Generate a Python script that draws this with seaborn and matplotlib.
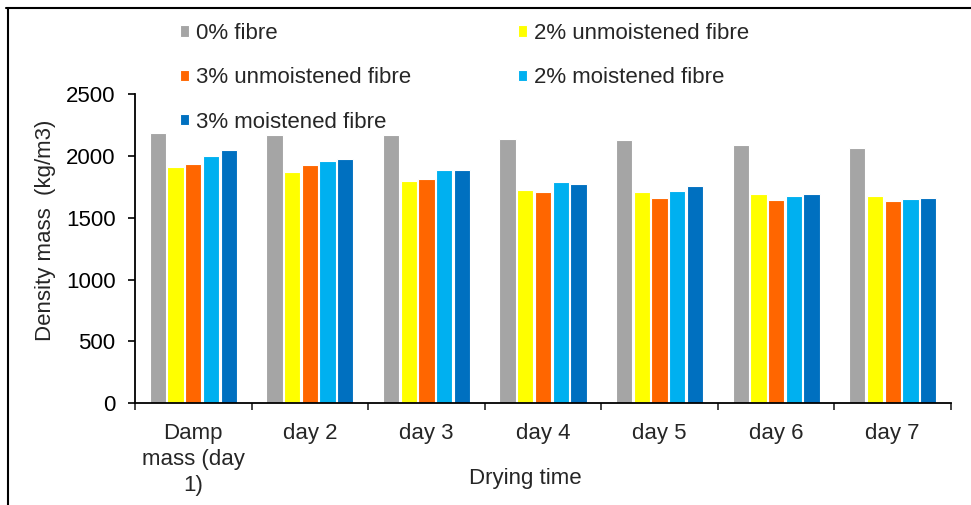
import pandas as pd
import matplotlib
matplotlib.use('Agg')
import matplotlib.pyplot as plt
from matplotlib.lines import Line2D
from matplotlib.ticker import FixedLocator
import seaborn as sns

# 数据
days = ['Damp\nmass (day\n1)', 'day 2', 'day 3', 'day 4', 'day 5', 'day 6', 'day 7']
series = ['0% fibre', '2% unmoistened fibre', '3% unmoistened fibre',
          '2% moistened fibre', '3% moistened fibre']
fibre_0 = [2183, 2171, 2171, 2134, 2126, 2091, 2061]
unmoist_2 = [1910, 1867, 1800, 1727, 1708, 1690, 1678]
unmoist_3 = [1932, 1924, 1811, 1708, 1662, 1643, 1635]
moist_2 = [1997, 1959, 1884, 1791, 1716, 1678, 1652]
moist_3 = [2045, 1977, 1884, 1773, 1754, 1690, 1662]
colors = ['#A5A5A5', '#FFFF00', '#FF6600', '#00B0F0', '#0070C0']

values = [fibre_0, unmoist_2, unmoist_3, moist_2, moist_3]
rows = []
for name, vals in zip(series, values):
    for d, v in zip(days, vals):
        rows.append({'Day': d, 'Series': name, 'Density': v})
df = pd.DataFrame(rows)

sns.set_style('white')
plt.rcParams['font.family'] = ['Liberation Sans', 'DejaVu Sans']
fs = 16

fig = plt.figure(figsize=(9.71, 5.05), dpi=100)
ax = fig.add_axes([135 / 971, 1 - 403.3 / 505, 816 / 971, 309.3 / 505])

sns.barplot(data=df, x='Day', y='Density', hue='Series', order=days,
            hue_order=series, palette=colors, width=0.76, gap=0.08,
            edgecolor='white', linewidth=0.8, saturation=1, ax=ax)

ax.set_ylim(0, 2500)
ax.set_xlim(-0.5, len(days) - 0.5)
ax.set_yticks([0, 500, 1000, 1500, 2000, 2500])
ax.tick_params(axis='y', labelsize=fs, length=5, width=1.2, direction='out',
               left=True, pad=9, colors='black')

# x轴：刻度在分组边界，文字在分组中间
ax.xaxis.set_major_locator(FixedLocator([i - 0.5 for i in range(len(days) + 1)]))
ax.xaxis.set_minor_locator(FixedLocator(list(range(len(days)))))
ax.set_xticklabels([], minor=False)
ax.set_xticklabels(days, minor=True)
ax.tick_params(axis='x', which='major', length=5, width=1.2, direction='out', bottom=True)
ax.tick_params(axis='x', which='minor', length=0, labelsize=fs, pad=14)
for t in ax.get_xticklabels(minor=True):
    t.set_linespacing(1.32)

for s in ['top', 'right']:
    ax.spines[s].set_visible(False)
for s in ['left', 'bottom']:
    ax.spines[s].set_color('black')
    ax.spines[s].set_linewidth(1.3)

ax.set_xlabel('Drying time', fontsize=fs)
ax.xaxis.set_label_coords((525 - 135) / 816, -0.21)
ax.set_ylabel('Density mass  (kg/m3)', fontsize=fs)
ax.yaxis.set_label_coords(-0.097, 0.558)

# 图例
handles, labels = ax.get_legend_handles_labels()
order = [0, 2, 4, 1, 3]
ax.legend([handles[i] for i in order], [labels[i] for i in order], ncol=2,
          loc='upper left', bbox_to_anchor=(180 / 971, 1 - 23 / 505),
          bbox_transform=fig.transFigure, frameon=False, fontsize=fs,
          handlelength=0.4, handleheight=0.4, handletextpad=0.3,
          labelspacing=1.05, columnspacing=4.85, borderpad=0, borderaxespad=0)

# 外框
fig.add_artist(Line2D([6 / 971, 1], [1 - 8 / 505, 1 - 8 / 505], color='black',
                      linewidth=1.5, transform=fig.transFigure))
fig.add_artist(Line2D([8 / 971, 8 / 971], [0, 1 - 8 / 505], color='black',
                      linewidth=1.5, transform=fig.transFigure))

fig.savefig('out.png', dpi=100)
